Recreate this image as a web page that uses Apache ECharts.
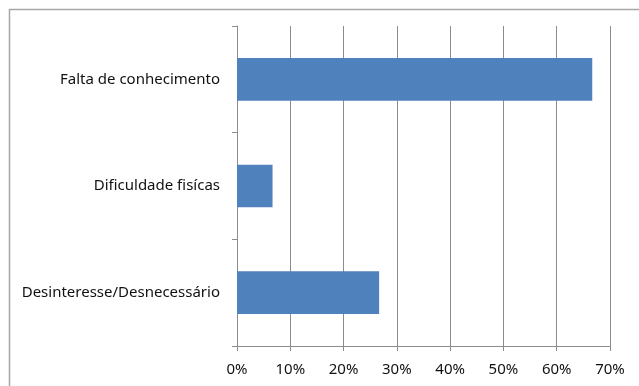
<!DOCTYPE html>
<html>
<head>
<meta charset="utf-8">
<script src="https://cdn.jsdelivr.net/npm/echarts@6/dist/echarts.min.js"></script>
<style>html,body{margin:0;padding:0;background:#fff;}#c{width:639px;height:386px;}</style>
</head>
<body>
<div id="c"></div>
<script>
const categories = ["Desinteresse/Desnecessário", "Dificuldade fisícas", "Falta de conhecimento"];
const values = [26.67, 6.67, 66.67];
const tickMax = 70;
const tickStep = 10;

const chart = echarts.init(document.getElementById('c'));
chart.setOption({
  animation: false,
  backgroundColor: '#fff',
  graphic: [{
    type: 'rect', left: 7, top: 7,
    shape: { width: 700, height: 500 },
    style: { fill: 'none', stroke: '#a6a6a6', lineWidth: 1.5 },
    silent: true
  }],
  grid: { left: 237, right: 29, top: 26, bottom: 40, containLabel: false },
  xAxis: {
    type: 'value', min: 0, max: tickMax, interval: tickStep,
    axisLine: { show: true, lineStyle: { color: '#8c8c8c', width: 1 } },
    axisTick: { show: true, length: 5, lineStyle: { color: '#8c8c8c' } },
    splitLine: { show: true, lineStyle: { color: '#8c8c8c', width: 1 } },
    axisLabel: { formatter: v => v + '%', color: '#111', fontFamily: 'Noto Sans', fontSize: 15, margin: 16 }
  },
  yAxis: {
    type: 'category', data: categories,
    axisLine: { show: true, lineStyle: { color: '#8c8c8c', width: 1 } },
    axisTick: { show: true, length: 5, lineStyle: { color: '#8c8c8c' } },
    axisLabel: { color: '#111', fontFamily: 'Noto Sans', fontSize: 15, margin: 17 }
  },
  series: [{
    type: 'bar', data: values, barCategoryGap: '60%',
    itemStyle: { color: '#4f81bd' }
  }]
});
</script>
</body>
</html>
